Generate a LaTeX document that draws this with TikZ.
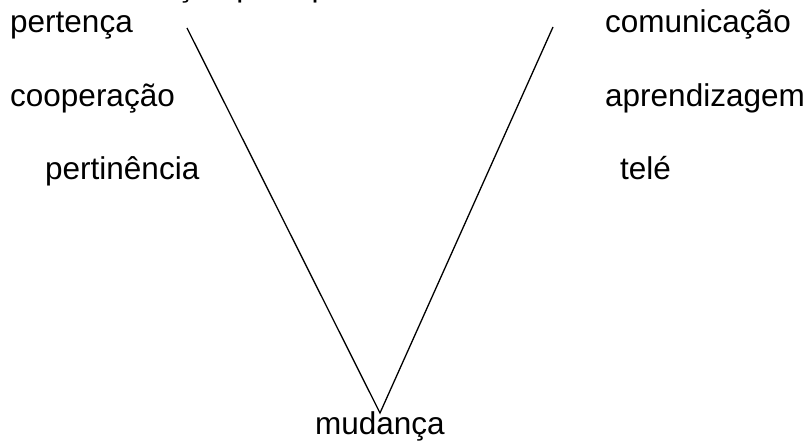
\documentclass[tikz,border=0pt]{standalone}
\usepackage{fontspec}
\setmainfont{Liberation Sans}
\begin{document}
\begin{tikzpicture}[x=1pt,y=-1pt,
  lbl/.style={anchor=base west,inner sep=0pt,font=\fontsize{31.5}{36}\selectfont},
  edge/.style={line width=1.3pt,black}]
\useasboundingbox (0,0) rectangle (809,443);
\begin{scope}
\clip (0,0) rectangle (809,443);
\node[lbl] (top) at (112,-3) {afiliação principal};
\end{scope}
\node[lbl] (pertenca) at (10,33) {pertença};
\node[lbl] (coop) at (10,107) {cooperação};
\node[lbl] (pertin) at (45,180) {pertinência};
\node[lbl] (comun) at (605,33) {comunicação};
\node[lbl] (aprend) at (605,107) {aprendizagem};
\node[lbl] (tele) at (620,180) {telé};
\node[lbl] (mud) at (315,435) {mudança};
\coordinate (L) at (187,28);
\coordinate (R) at (553,27);
\coordinate (A) at (380,413);
\draw[edge] (L) -- (A) -- (R);
\end{tikzpicture}
\end{document}
